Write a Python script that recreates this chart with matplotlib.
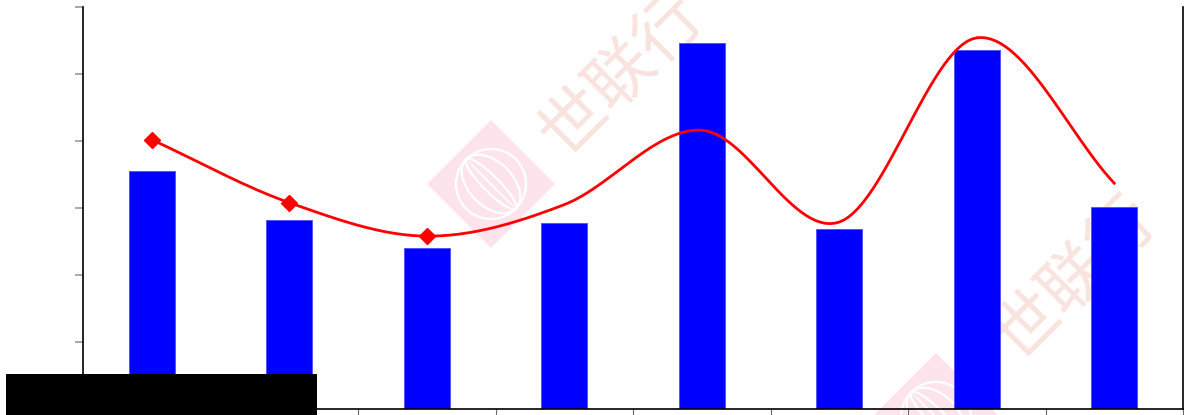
import numpy as np
import matplotlib.pyplot as plt
from matplotlib.patches import Rectangle, Polygon, Ellipse

# values (axis has no labels, 6 tick steps)
categories = ['1', '2', '3', '4', '5', '6', '7', '8']
bar_values = [3.55, 2.82, 2.40, 2.78, 5.46, 2.69, 5.36, 3.01]
line_values = [4.02, 3.08, 2.58, 3.05, 4.16, 2.79, 5.54, 3.37]
marked = [0, 1, 2]

H = 415


def smooth(x, y, n=30):
    # catmull-rom curve through the points, only for drawing
    x = np.asarray(x, float)
    y = np.asarray(y, float)
    px = np.concatenate([[2 * x[0] - x[1]], x, [2 * x[-1] - x[-2]]])
    py = np.concatenate([[2 * y[0] - y[1]], y, [2 * y[-1] - y[-2]]])
    xs, ys = [], []
    t = np.linspace(0, 1, n)
    for i in range(1, len(px) - 2):
        for p, out in ((px, xs), (py, ys)):
            p0, p1, p2, p3 = p[i - 1], p[i], p[i + 1], p[i + 2]
            out.extend(0.5 * (2 * p1 + (-p0 + p2) * t
                              + (2 * p0 - 5 * p1 + 4 * p2 - p3) * t ** 2
                              + (-p0 + 3 * p1 - 3 * p2 + p3) * t ** 3))
    return np.array(xs), np.array(ys)


fig = plt.figure(figsize=(11.84, 4.15), dpi=100)
ax = fig.add_axes([83 / 1184, 6 / 415, 1100 / 1184, 402 / 415])

x = np.arange(len(categories))

# watermarks (pixel positions from the top-left)
wm_font = ['Noto Sans CJK SC', 'DejaVu Sans']
for cx, cy, tx, ty in [(491, 184, 622, 74), (936, 417, 1075, 278)]:
    s = 64
    d = Polygon([(cx - s, H - cy), (cx, H - cy + s), (cx + s, H - cy), (cx, H - cy - s)],
                closed=True, transform=None, facecolor='#fde4ec',
                edgecolor='none', zorder=0.5, clip_on=False)
    ax.add_patch(d)
    # globe logo inside the diamond
    for w in [70, 44, 16]:
        ax.add_patch(Ellipse((cx, H - cy), w, 70, angle=45, transform=None,
                             fill=False, edgecolor='white', linewidth=1.6,
                             zorder=0.55, clip_on=False))
    ax.add_patch(Ellipse((cx, H - cy), 70, 2, angle=-45, transform=None,
                         facecolor='white', edgecolor='none',
                         zorder=0.55, clip_on=False))
    ax.text(tx, H - ty, '世联行', fontsize=48, color='#f9e3df',
            rotation=45, ha='center', va='center', family=wm_font,
            transform=None, zorder=0.6, clip_on=False)

ax.bar(x, bar_values, width=0.335, color='#0000ff', edgecolor='#4d4dff',
       linewidth=0.6, zorder=2)

sx, sy = smooth(x, line_values)
ax.plot(sx, sy, color='#ff0000', linewidth=2, zorder=3)
ax.plot(x[marked], [line_values[i] for i in marked], linestyle='none',
        marker='D', markersize=8, color='#ff0000', zorder=4)

ax.set_xlim(-0.5, 7.5)
ax.set_ylim(0, 6)
ax.set_xticks(np.arange(-0.5, 8))
ax.set_xticklabels([])
ax.set_yticks(np.arange(0, 7))
ax.set_yticklabels([])
ax.tick_params(axis='y', direction='out', length=6, color='#999999', width=1.2)
ax.tick_params(axis='x', direction='out', length=5, color='#666666')
ax.spines['top'].set_visible(False)
for side in ['left', 'right', 'bottom']:
    ax.spines[side].set_color('black')
    ax.spines[side].set_linewidth(1.2)
    ax.spines[side].set_zorder(5)
ax.patch.set_alpha(0)

# redaction block at the lower left
fig.patches.append(Rectangle((6 / 1184, 0), 311 / 1184, 41 / 415,
                             transform=fig.transFigure, facecolor='black',
                             edgecolor='none', zorder=10))

fig.savefig('out.png', dpi=100)
